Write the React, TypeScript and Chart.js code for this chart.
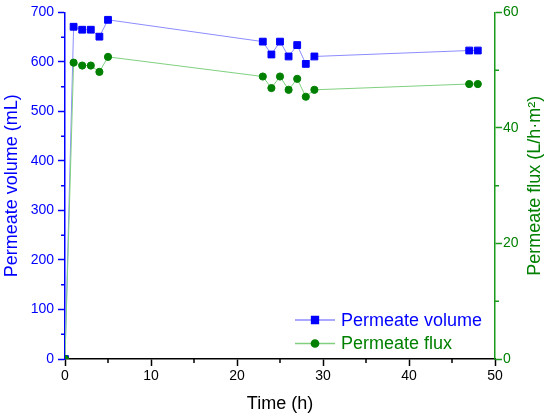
import { useEffect, useRef } from 'react'
import { Chart, registerables } from 'chart.js'
import { drawPoint } from 'chart.js/helpers'

Chart.register(...registerables)

const FONT = '"Liberation Sans", Arial, sans-serif'
Chart.defaults.font.family = FONT

// time in hours
const times = [0, 1, 2, 3, 4, 5, 23, 24, 25, 26, 27, 28, 29, 47, 48]
// permeate volume (mL)
const volume = [0, 671, 665, 665, 651, 685, 641, 615, 641, 611, 634, 596, 611, 623, 623]
// permeate flux (L/h·m²)
const flux = [0, 51.3, 50.8, 50.8, 49.7, 52.3, 48.9, 46.9, 48.9, 46.6, 48.5, 45.4, 46.6, 47.6, 47.6]

const BLUE = '#0000ff'
const GREEN = '#008000'
const RIGHT_TITLE = 'Permeate flux (L/h·m²)'

// short ticks half way between the major ones
const minorTicks = {
  id: 'minorTicks',
  afterDraw(chart: any) {
    const ctx = chart.ctx
    Object.values(chart.scales).forEach((scale: any) => {
      const ticks = scale.ticks
      ctx.save()
      ctx.strokeStyle = scale.options.border.color
      ctx.lineWidth = 1.5
      ctx.beginPath()
      for (let i = 0; i < ticks.length - 1; i++) {
        const mid = (ticks[i].value + ticks[i + 1].value) / 2
        const p = scale.getPixelForValue(mid)
        if (scale.axis === 'x') {
          ctx.moveTo(p, scale.top)
          ctx.lineTo(p, scale.top + 4)
        } else if (scale.position === 'left') {
          ctx.moveTo(scale.right, p)
          ctx.lineTo(scale.right - 4, p)
        } else {
          ctx.moveTo(scale.left, p)
          ctx.lineTo(scale.left + 4, p)
        }
      }
      ctx.stroke()
      ctx.restore()
    })
  },
}

// right axis title reads bottom to top, like the left one
const rightTitle = {
  id: 'rightTitle',
  afterDraw(chart: any) {
    const { ctx, chartArea } = chart
    const scale = chart.scales.y1
    ctx.save()
    ctx.translate(scale.right - 15, (chartArea.top + chartArea.bottom) / 2)
    ctx.rotate(-Math.PI / 2)
    ctx.font = '18px ' + FONT
    ctx.fillStyle = GREEN
    ctx.textAlign = 'center'
    ctx.textBaseline = 'middle'
    ctx.fillText(RIGHT_TITLE, 0, 0)
    ctx.restore()
  },
}

// legend drawn inside the plot, bottom right
const insideLegend = {
  id: 'insideLegend',
  afterDraw(chart: any) {
    const { ctx, chartArea } = chart
    chart.data.datasets.forEach((ds: any, i: number) => {
      const x0 = chartArea.right - 200
      const y = chartArea.bottom - 39 + i * 23.5
      ctx.save()
      ctx.strokeStyle = ds.borderColor
      ctx.lineWidth = 1.5
      ctx.beginPath()
      ctx.moveTo(x0, y)
      ctx.lineTo(x0 + 40, y)
      ctx.stroke()
      ctx.fillStyle = ds.pointBackgroundColor
      ctx.strokeStyle = ds.pointBorderColor
      drawPoint(ctx, { pointStyle: ds.pointStyle, radius: ds.pointRadius, rotation: 0, borderWidth: 1 }, x0 + 20, y)
      ctx.font = '18px ' + FONT
      ctx.textBaseline = 'middle'
      ctx.textAlign = 'left'
      ctx.fillText(ds.label, x0 + 46, y + 1)
      ctx.restore()
    })
  },
}

export default function App() {
  const canvasRef = useRef<HTMLCanvasElement>(null)

  useEffect(() => {
    document.body.style.margin = '0'
    if (!canvasRef.current) return

    const chart = new Chart(canvasRef.current, {
      type: 'line',
      data: {
        datasets: [
          {
            label: 'Permeate volume',
            data: times.map((t, i) => ({ x: t, y: volume[i] })),
            yAxisID: 'y',
            order: 1,
            borderColor: '#8c8cff',
            borderWidth: 1,
            pointStyle: 'rect',
            pointRadius: 4.8,
            pointBackgroundColor: BLUE,
            pointBorderColor: BLUE,
            pointBorderWidth: 1,
          },
          {
            label: 'Permeate flux',
            data: times.map((t, i) => ({ x: t, y: flux[i] })),
            yAxisID: 'y1',
            order: 0,
            borderColor: '#80d080',
            borderWidth: 1,
            pointStyle: 'circle',
            pointRadius: 3.6,
            pointBackgroundColor: GREEN,
            pointBorderColor: GREEN,
            pointBorderWidth: 1,
          },
        ],
      },
      options: {
        animation: false,
        responsive: true,
        maintainAspectRatio: false,
        layout: { padding: { top: 12, left: 0, right: 0, bottom: 0 } },
        plugins: {
          legend: { display: false },
          tooltip: { enabled: false },
        },
        scales: {
          x: {
            type: 'linear',
            min: 0,
            max: 50,
            ticks: { stepSize: 10, color: '#000', font: { size: 14 }, padding: 2 },
            grid: { drawOnChartArea: false, tickLength: 7, tickColor: '#000', tickWidth: 1.5 },
            border: { color: '#000', width: 1.5 },
            title: {
              display: true,
              text: 'Time (h)',
              color: '#000',
              font: { size: 18 },
              padding: { top: 0, bottom: 3 },
            },
            afterFit(scale: any) {
              scale.height = 59
            },
          },
          y: {
            type: 'linear',
            position: 'left',
            min: 0,
            max: 700,
            ticks: { stepSize: 100, color: BLUE, font: { size: 14 }, padding: 4 },
            grid: { drawOnChartArea: false, tickLength: 7, tickColor: BLUE, tickWidth: 1.5 },
            border: { color: BLUE, width: 1.5 },
            title: {
              display: true,
              text: 'Permeate volume (mL)',
              color: BLUE,
              font: { size: 18 },
              padding: { top: 1, bottom: 0 },
            },
            afterFit(scale: any) {
              scale.width = 65
            },
          },
          y1: {
            type: 'linear',
            position: 'right',
            min: 0,
            max: 60,
            ticks: { stepSize: 20, color: GREEN, font: { size: 14 }, padding: 1 },
            grid: { drawOnChartArea: false, tickLength: 7, tickColor: '#1a9a1a', tickWidth: 1.5 },
            border: { color: '#1a9a1a', width: 1.5 },
            title: { display: false },
            afterFit(scale: any) {
              scale.width = 55
            },
          },
        },
      },
      plugins: [minorTicks, rightTitle, insideLegend],
    })

    return () => {
      chart.destroy()
    }
  }, [])

  return (
    <div style={{ width: 550, height: 418, position: 'relative' }}>
      <canvas ref={canvasRef} />
    </div>
  )
}
